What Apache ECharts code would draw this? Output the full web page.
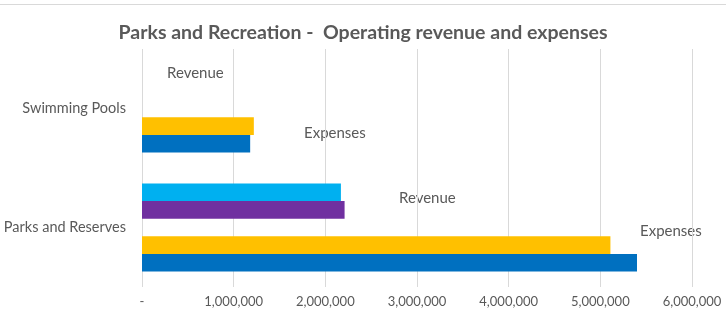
<!DOCTYPE html>
<html>
<head>
<meta charset="utf-8">
<script src="https://cdn.jsdelivr.net/npm/echarts@6/dist/echarts.min.js"></script>
<style>
  html, body { margin: 0; padding: 0; background: #fff; }
  #chart { width: 726px; height: 326px; }
</style>
</head>
<body>
<div id="chart"></div>
<script>
// Operating revenue and expenses by Parks and Recreation activity
const categories = ['Swimming Pools', 'Parks and Reserves'];
const revenuePrior = [null, 2170000];
const revenueCurrent = [null, 2210000];
const expensesPrior = [1220000, 5110000];
const expensesCurrent = [1180000, 5400000];
const xTicks = [0, 1000000, 2000000, 3000000, 4000000, 5000000, 6000000];

const FONT = 'Lato, "Open Sans", sans-serif';
const TEXT = '#595959';

function fmt(v) {
  if (v === 0) return '-';
  return v.toLocaleString('en-US');
}

const chart = echarts.init(document.getElementById('chart'), null, { renderer: 'canvas' });

const barStyle = (color) => ({
  type: 'bar',
  barGap: '0%',
  barCategoryGap: '26%',
  itemStyle: { color: color },
  emphasis: { disabled: true }
});

chart.setOption({
  animation: false,
  backgroundColor: '#fff',
  title: {
    text: 'Parks and Recreation -  Operating revenue and expenses',
    left: 'center',
    top: 18,
    textStyle: { fontFamily: FONT, fontSize: 19.5, fontWeight: 'bold', color: TEXT }
  },
  grid: { left: 142, right: 34, top: 49, bottom: 39 },
  xAxis: {
    type: 'value',
    min: xTicks[0],
    max: xTicks[xTicks.length - 1],
    interval: xTicks[1] - xTicks[0],
    axisLine: { show: false },
    axisTick: { show: false },
    axisLabel: {
      formatter: fmt,
      fontFamily: FONT,
      fontSize: 13,
      color: TEXT,
      margin: 8
    },
    splitLine: { show: true, lineStyle: { color: '#d9d9d9', width: 1 } }
  },
  yAxis: {
    type: 'category',
    data: categories,
    inverse: true,
    axisLine: { show: false },
    axisTick: { show: false },
    axisLabel: { fontFamily: FONT, fontSize: 14.5, color: TEXT, margin: 16 }
  },
  series: [
    Object.assign(barStyle('#00B0F0'), { name: 'Revenue (prior)', data: revenuePrior }),
    Object.assign(barStyle('#7030A0'), { name: 'Revenue (current)', data: revenueCurrent }),
    // empty slot separating the revenue pair from the expenses pair
    Object.assign(barStyle('rgba(0,0,0,0)'), { name: 'gap', data: [null, null] }),
    Object.assign(barStyle('#FFC000'), { name: 'Expenses (prior)', data: expensesPrior }),
    Object.assign(barStyle('#0070C0'), { name: 'Expenses (current)', data: expensesCurrent })
  ],
  graphic: [
    {
      type: 'line',
      shape: { x1: 0, y1: 4.5, x2: 726, y2: 4.5 },
      style: { stroke: '#d9d9d9', lineWidth: 1 }
    },
    { type: 'text', left: 167, top: 66, style: { text: 'Revenue', font: '15px ' + FONT, fill: TEXT } },
    { type: 'text', left: 304, top: 126, style: { text: 'Expenses', font: '15px ' + FONT, fill: TEXT } },
    { type: 'text', left: 399, top: 191, style: { text: 'Revenue', font: '15px ' + FONT, fill: TEXT } },
    { type: 'text', left: 640, top: 224, style: { text: 'Expenses', font: '15px ' + FONT, fill: TEXT } }
  ]
});
</script>
</body>
</html>
